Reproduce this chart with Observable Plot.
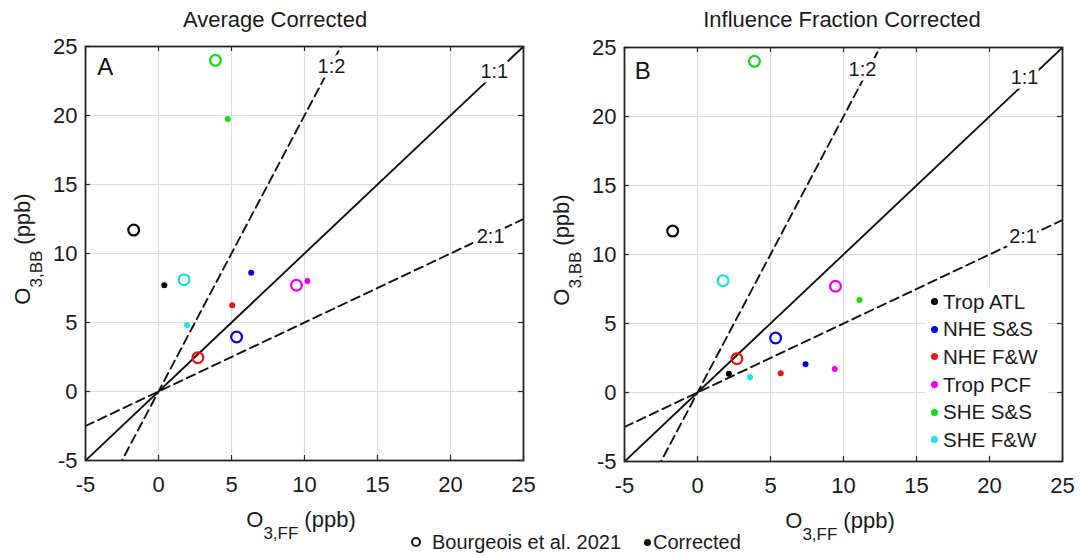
<!DOCTYPE html>
<html><head><meta charset="utf-8">
<script src="https://cdn.jsdelivr.net/npm/d3@7"></script>
<script src="https://cdn.jsdelivr.net/npm/@observablehq/plot@0.6"></script>
<style>
body{margin:0;background:#fff;font-family:"Liberation Sans",Arial,sans-serif;color:#1a1a1a;}
#wrap{position:relative;width:1080px;height:556px;overflow:hidden;background:#fff;}
.panel{position:absolute;}
.title{position:absolute;top:9px;font-size:22px;line-height:22px;white-space:nowrap;transform:translateX(-50%);}
#leg{position:absolute;left:925px;top:287px;width:123px;height:168px;background:#fff;padding-top:1px;box-sizing:border-box;}
.row{display:flex;align-items:center;height:27.6px;font-size:20.5px;}
.row .d{width:7px;height:7px;border-radius:50%;margin-left:6px;margin-right:5px;}
#bleg{position:absolute;left:411px;top:530px;display:flex;align-items:center;font-size:20px;line-height:24px;white-space:nowrap;}
#bleg .oc{box-sizing:border-box;width:10px;height:10px;border:2px solid #111;border-radius:50%;margin-right:11px;}
#bleg .fc{width:7px;height:7px;background:#111;border-radius:50%;margin-left:23px;margin-right:2px;}
</style></head>
<body><div id="wrap"></div>
<script>
// ---- data ----
const groups = ["Trop ATL","NHE S&S","NHE F&W","Trop PCF","SHE S&S","SHE F&W"];
const groupColors = ["#000000","#0000ee","#ee1111","#ee00ee","#11dd11","#11e6e6"];
const bourgeoisFF = [-1.7, 5.35, 2.7, 9.45, 3.9, 1.75];
const bourgeoisBB = [11.7, 3.95, 2.45, 7.7, 24.0, 8.1];
const avgCorrFF = [0.4, 6.35, 5.05, 10.2, 4.75, 1.95];
const avgCorrBB = [7.7, 8.6, 6.25, 8.0, 19.75, 4.8];
const infCorrFF = [2.15, 7.4, 5.7, 9.4, 11.1, 3.6];
const infCorrBB = [1.35, 2.05, 1.4, 1.7, 6.7, 1.1];
const ticks = [-5, 0, 5, 10, 15, 20, 25];
const ratioLabels = ["1:1", "1:2", "2:1"];
const ratioSlopes = [1, 2, 0.5];
const titles = ["Average Corrected", "Influence Fraction Corrected"];
const panelLetters = ["A", "B"];
const ratioLabelXA = [23.0, 11.85, 22.75];
const ratioLabelYA = [23.2, 23.55, 11.25];
const ratioLabelXB = [22.4, 11.3, 22.3];
const ratioLabelYB = [22.8, 23.4, 11.3];
const letterXY = [[-3.65, 23.5], [-3.75, 23.3]];
const legendLabels = ["Bourgeois et al. 2021", "Corrected"];

// ---- layout ----
const FONT = '"Liberation Sans", Arial, sans-serif';
const W = 540, H = 526, mL = 85, mR = 17, mT = 16, mB = 96;
const innerH = H - mT - mB, innerW = W - mL - mR;
const wrap = document.getElementById("wrap");

function panel(corrFF, corrBB, labX, labY, idx, left, top) {
  const bRows = groups.map((g, i) => ({x: bourgeoisFF[i], y: bourgeoisBB[i], c: groupColors[i]}));
  const cRows = groups.map((g, i) => ({x: corrFF[i], y: corrBB[i], c: groupColors[i]}));
  const lineRows = ratioSlopes.flatMap((s, i) => [-5, 25].map(x => ({k: ratioLabels[i], x, y: s * x, dashed: s !== 1})));
  const labRows = ratioLabels.map((t, i) => ({t, x: labX[i], y: labY[i]}));
  const letterRows = [{t: panelLetters[idx], x: letterXY[idx][0], y: letterXY[idx][1]}];
  const svg = Plot.plot({
    width: W, height: H, marginLeft: mL, marginRight: mR, marginTop: mT, marginBottom: mB,
    style: {fontFamily: FONT, fontSize: "22px", color: "#1a1a1a", background: "transparent", overflow: "visible"},
    x: {domain: [-5, 25], ticks, tickSize: 0, tickPadding: 16, tickFormat: d => String(d), label: null},
    y: {domain: [-5, 25], ticks, tickSize: 0, tickPadding: 8, tickFormat: d => String(d), label: null},
    color: {type: "identity"},
    marks: [
      Plot.ruleX(ticks, {stroke: "#dcdcdc", strokeWidth: 1.2}),
      Plot.ruleY(ticks, {stroke: "#dcdcdc", strokeWidth: 1.2}),
      Plot.line(lineRows.filter(d => !d.dashed), {x: "x", y: "y", z: "k", stroke: "#111", strokeWidth: 1.9, clip: true}),
      Plot.line(lineRows.filter(d => d.dashed), {x: "x", y: "y", z: "k", stroke: "#111", strokeWidth: 1.9, strokeDasharray: "9,5", clip: true}),
      Plot.text(labRows, {x: "x", y: "y", text: "t", fontSize: 20, fill: "#1a1a1a", stroke: "white", strokeWidth: 9, paintOrder: "stroke"}),
      Plot.text(letterRows, {x: "x", y: "y", text: "t", fontSize: 24, fill: "#111"}),
      Plot.dot(bRows, {x: "x", y: "y", r: 5.4, stroke: "c", strokeWidth: 2.2, fill: "none"}),
      Plot.dot(cRows, {x: "x", y: "y", r: 3, fill: "c", stroke: "none"}),
      Plot.ruleX(ticks, {stroke: "#262626", strokeWidth: 1.2, insetTop: innerH - 5}),
      Plot.ruleX(ticks, {stroke: "#262626", strokeWidth: 1.2, insetBottom: innerH - 5}),
      Plot.ruleY(ticks, {stroke: "#262626", strokeWidth: 1.2, insetRight: innerW - 5}),
      Plot.ruleY(ticks, {stroke: "#262626", strokeWidth: 1.2, insetLeft: innerW - 5}),
      Plot.frame({stroke: "#262626", strokeWidth: 1.8})
    ]
  });
  const s = d3.select(svg);
  const xl = s.append("text").attr("x", 301).attr("y", 497).attr("text-anchor", "middle")
    .attr("font-size", 22).attr("fill", "#1a1a1a");
  xl.append("tspan").text("O");
  xl.append("tspan").attr("font-size", 17).attr("dy", 12).text("3,FF");
  xl.append("tspan").attr("dy", -12).attr("dx", 6).text("(ppb)");
  const yl = s.append("text").attr("transform", "translate(30,219) rotate(-90)").attr("text-anchor", "middle")
    .attr("font-size", 22).attr("fill", "#1a1a1a");
  yl.append("tspan").text("O");
  yl.append("tspan").attr("font-size", 17).attr("dy", 12).text("3,BB");
  yl.append("tspan").attr("dy", -12).attr("dx", 6).text("(ppb)");
  svg.classList.add("panel");
  svg.style.left = left + "px";
  svg.style.top = top + "px";
  wrap.appendChild(svg);
}

panel(avgCorrFF, avgCorrBB, ratioLabelXA, ratioLabelYA, 0, 0, 30);
panel(infCorrFF, infCorrBB, ratioLabelXB, ratioLabelYB, 1, 539, 31);

// titles
[[titles[0], 275], [titles[1], 842]].forEach(([t, cx]) => {
  const d = document.createElement("div");
  d.className = "title"; d.style.left = cx + "px"; d.textContent = t;
  wrap.appendChild(d);
});

// group legend in panel B
const leg = document.createElement("div");
leg.id = "leg";
groups.forEach((g, i) => {
  const r = document.createElement("div"); r.className = "row";
  const dot = document.createElement("span"); dot.className = "d"; dot.style.background = groupColors[i];
  const tx = document.createElement("span"); tx.textContent = g;
  r.appendChild(dot); r.appendChild(tx); leg.appendChild(r);
});
wrap.appendChild(leg);

// bottom legend
const bl = document.createElement("div");
bl.id = "bleg";
bl.innerHTML = '<span class="oc"></span><span></span><span class="fc"></span><span></span>';
bl.children[1].textContent = legendLabels[0];
bl.children[3].textContent = legendLabels[1];
wrap.appendChild(bl);
</script>
</body></html>
